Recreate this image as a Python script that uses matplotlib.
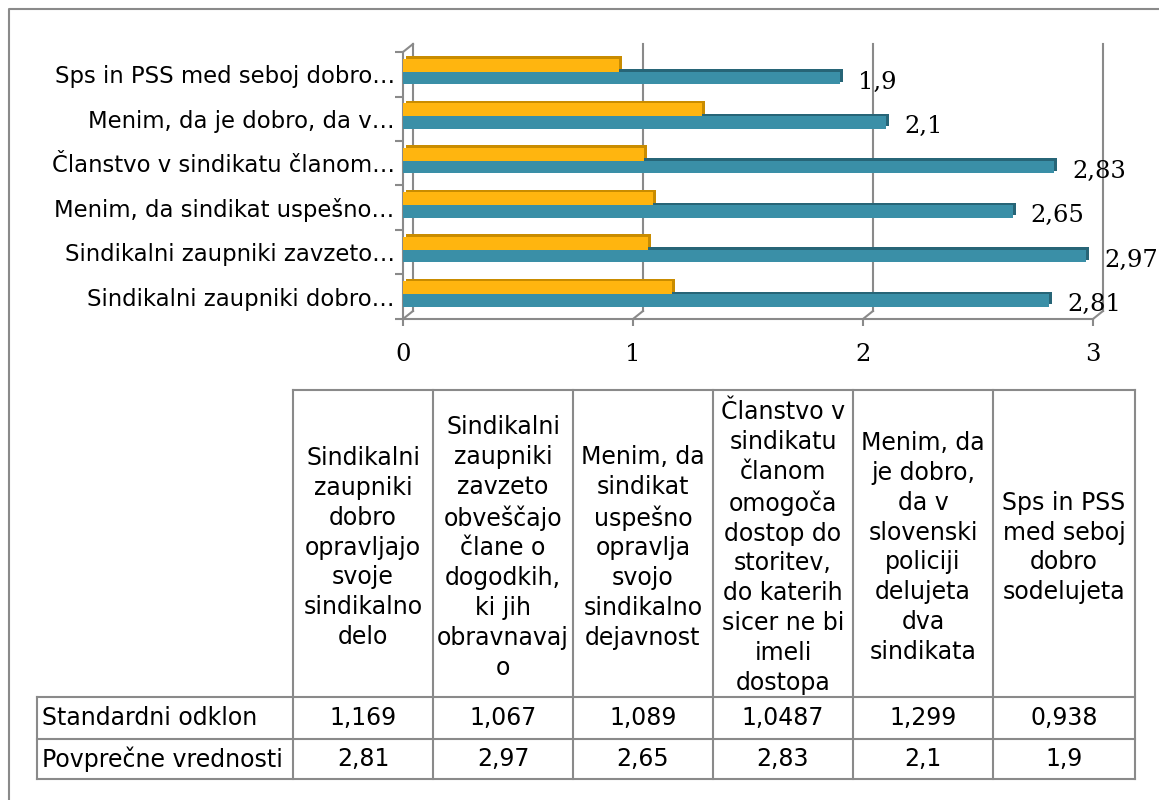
import numpy as np
import matplotlib
matplotlib.use('Agg')
import matplotlib.pyplot as plt
import matplotlib.transforms as mtransforms
from matplotlib.lines import Line2D

# bottom-to-top order in the chart = left-to-right order in the table
short_labels = ["Sindikalni zaupniki dobro…",
                "Sindikalni zaupniki zavzeto…",
                "Menim, da sindikat uspešno…",
                "Članstvo v sindikatu članom…",
                "Menim, da je dobro, da v…",
                "Sps in PSS med seboj dobro…"]
header_labels = ["Sindikalni\nzaupniki\ndobro\nopravljajo\nsvoje\nsindikalno\ndelo",
                 "Sindikalni\nzaupniki\nzavzeto\nobveščajo\nčlane o\ndogodkih,\nki jih\nobravnavaj\no",
                 "Menim, da\nsindikat\nuspešno\nopravlja\nsvojo\nsindikalno\ndejavnost",
                 "Članstvo v\nsindikatu\nčlanom\nomogoča\ndostop do\nstoritev,\ndo katerih\nsicer ne bi\nimeli\ndostopa",
                 "Menim, da\nje dobro,\nda v\nslovenski\npoliciji\ndelujeta\ndva\nsindikata",
                 "Sps in PSS\nmed seboj\ndobro\nsodelujeta"]
std_dev = [1.169, 1.067, 1.089, 1.0487, 1.299, 0.938]
means = [2.81, 2.97, 2.65, 2.83, 2.1, 1.9]
row_names = ["Standardni odklon", "Povprečne vrednosti"]
x_ticks = [0, 1, 2, 3]

def fmt(v):
    return str(v).replace('.', ',')

W, H = 1159, 800
fig = plt.figure(figsize=(W / 100, H / 100), dpi=100)
gray = '#8a8a8a'
orange, orange_dk = '#FFB50F', '#C98C00'
teal, teal_dk = '#3A8FA7', '#276577'

# pixel-space layer for frame and table
pax = fig.add_axes([0, 0, 1, 1])
pax.set_xlim(0, W)
pax.set_ylim(H, 0)
pax.axis('off')
pax.plot([9, 9, W], [H, 9, 9], color=gray, lw=1.5)

ax = fig.add_axes([403 / W, 1 - 319 / H, 690 / W, 267 / H])
ax.patch.set_visible(False)
ax.set_xlim(0, 3)
ax.set_ylim(-0.5, 5.5)

y = np.arange(len(means))
h = 0.29
shift = 0.06
back = mtransforms.offset_copy(ax.transData, fig=fig, x=10, y=8, units='dots')
side = mtransforms.offset_copy(ax.transData, fig=fig, x=3, y=2.5, units='dots')

# back wall gridlines
for k in x_ticks:
    ax.plot([k, k], [-0.5, 5.5], transform=back, color=gray, lw=1.5, zorder=0, clip_on=False)

ax.barh(y + shift - h / 2, means, height=h, color=teal_dk, transform=side, zorder=2)
ax.barh(y + shift - h / 2, means, height=h, color=teal, zorder=3)
ax.barh(y + shift + h / 2, std_dev, height=h, color=orange_dk, transform=side, zorder=4)
ax.barh(y + shift + h / 2, std_dev, height=h, color=orange, zorder=5)

for yi, v in zip(y, means):
    ax.annotate(fmt(v), (v, yi + shift - h / 2), xytext=(18, -4), textcoords='offset pixels',
                ha='left', va='center', fontsize=17.5, family='DejaVu Serif', zorder=6)

# floor / wall connectors
fig.canvas.draw()
ident = mtransforms.IdentityTransform()
for k in x_ticks:
    px, py = ax.transData.transform((k, -0.5))
    fig.add_artist(Line2D([px, px + 10], [py, py + 8], transform=ident, color=gray, lw=1.5))
px, py = ax.transData.transform((0, 5.5))
fig.add_artist(Line2D([px, px + 10], [py, py + 8], transform=ident, color=gray, lw=1.5))

for s in ['top', 'right']:
    ax.spines[s].set_visible(False)
for s in ['left', 'bottom']:
    ax.spines[s].set_color(gray)
    ax.spines[s].set_linewidth(1.5)

ax.set_yticks(y)
ax.set_yticklabels(short_labels, fontsize=16.4, family='DejaVu Sans')
ax.set_yticks(np.arange(-0.5, 6, 1), minor=True)
ax.tick_params(axis='y', which='major', length=0, pad=6)
ax.tick_params(axis='y', which='minor', length=6, width=1.5, color=gray)
ax.set_xticks(x_ticks)
ax.set_xticklabels([str(t) for t in x_ticks], fontsize=17.5, family='DejaVu Serif')
ax.tick_params(axis='x', length=5, width=1.5, color=gray, pad=12)

# table
col_x = [293, 433, 573, 713, 853, 993, 1135]
left_x = 37
y_top, y_head, y_r1, y_r2 = 390, 697, 739, 779
lkw = dict(color=gray, lw=1.5)
pax.plot([col_x[0], col_x[-1]], [y_top, y_top], **lkw)
for yy in [y_head, y_r1, y_r2]:
    pax.plot([left_x, col_x[-1]], [yy, yy], **lkw)
for xx in col_x:
    pax.plot([xx, xx], [y_top, y_r2], **lkw)
pax.plot([left_x, left_x], [y_head, y_r2], **lkw)

tfs = 17
for i, txt in enumerate(header_labels):
    xm = (col_x[i] + col_x[i + 1]) / 2
    pax.text(xm, (y_top + y_head) / 2 + 4, txt, ha='center', va='center', multialignment='center',
             fontsize=tfs, linespacing=1.31)
rows = [std_dev, means]
bounds = [(y_head, y_r1), (y_r1, y_r2)]
for name, vals, (a, b) in zip(row_names, rows, bounds):
    ym = (a + b) / 2
    pax.text(left_x + 5, ym, name, ha='left', va='center', fontsize=tfs)
    for i, v in enumerate(vals):
        xm = (col_x[i] + col_x[i + 1]) / 2
        pax.text(xm, ym, fmt(v), ha='center', va='center', fontsize=tfs)

fig.savefig('out.png', dpi=100)
